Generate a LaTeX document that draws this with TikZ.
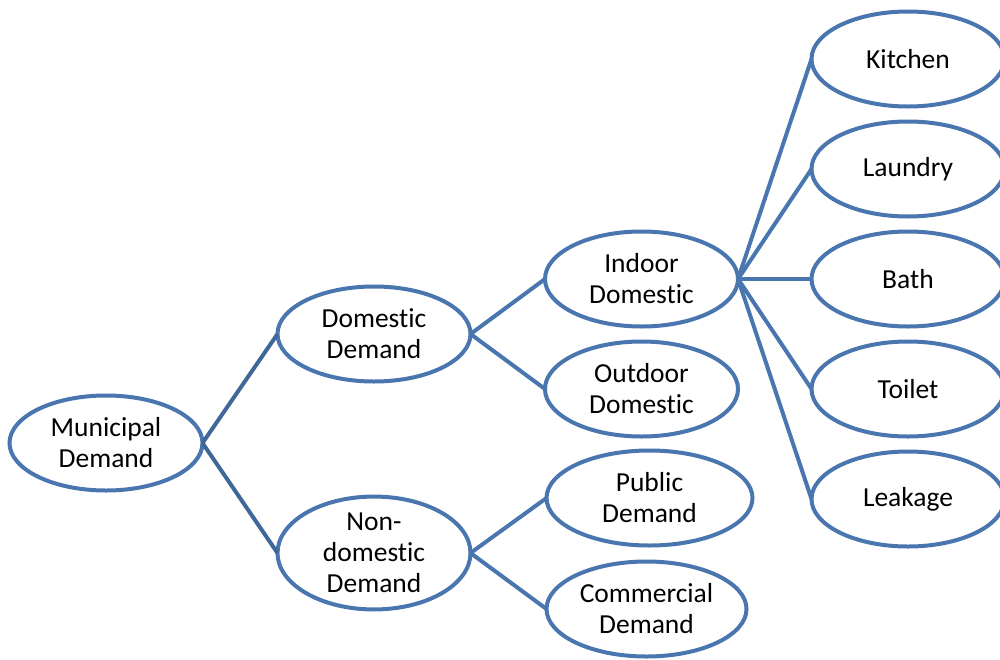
\documentclass[tikz,border=0pt]{standalone}
\usepackage{fontspec}
\setmainfont[Ligatures=NoCommon]{Carlito}
\usetikzlibrary{shapes.geometric}
\definecolor{edgeblue}{HTML}{4A76AF}
\definecolor{rootline}{HTML}{3F6899}
\tikzset{
  bubble/.style={ellipse, draw=edgeblue, line width=4pt, fill=white,
    minimum width=193pt, minimum height=95pt, inner sep=0pt, outer sep=0pt,
    align=center, font=\fontsize{27.5}{31}\selectfont},
  link/.style={draw=edgeblue, line width=4pt},
  rootlink/.style={draw=rootline, line width=4pt}
}
\begin{document}
\begin{tikzpicture}[x=1pt,y=-1pt]
  \useasboundingbox (0,0) rectangle (1000,659);
  \clip (0,0) rectangle (1000,659);

  % tree levels, left to right
  \node[bubble] (mun) at (106,443) {Municipal\\Demand};
  \node[bubble] (dom) at (374,334) {Domestic\\Demand};
  \node[bubble] (non) at (374,553) {Non-\\domestic\\Demand};
  \node[bubble] (ind) at (641.5,279) {Indoor\\Domestic};
  \node[bubble] (out) at (641.5,389) {Outdoor\\Domestic};
  \node[bubble, minimum width=206pt] (pub) at (649.5,498) {Public\\Demand};
  \node[bubble, minimum width=200pt] (com) at (646.5,609) {Commercial\\Demand};
  \node[bubble] (kit) at (908,59)  {Kitchen};
  \node[bubble] (lau) at (908,169) {Laundry};
  \node[bubble] (bat) at (908,279) {Bath};
  \node[bubble] (toi) at (908,389) {Toilet};
  \node[bubble] (lea) at (908,499) {Leakage};

  % connectors
  \draw[rootlink] (mun.east) -- (dom.west);
  \draw[rootlink] (mun.east) -- (non.west);
  \draw[link] (dom.east) -- (ind.west);
  \draw[link] (dom.east) -- (out.west);
  \draw[link] (non.east) -- (pub.west);
  \draw[link] (non.east) -- (com.west);
  \foreach \t in {kit,lau,bat,toi,lea}
    \draw[link] (ind.east) -- (\t.west);
\end{tikzpicture}
\end{document}
